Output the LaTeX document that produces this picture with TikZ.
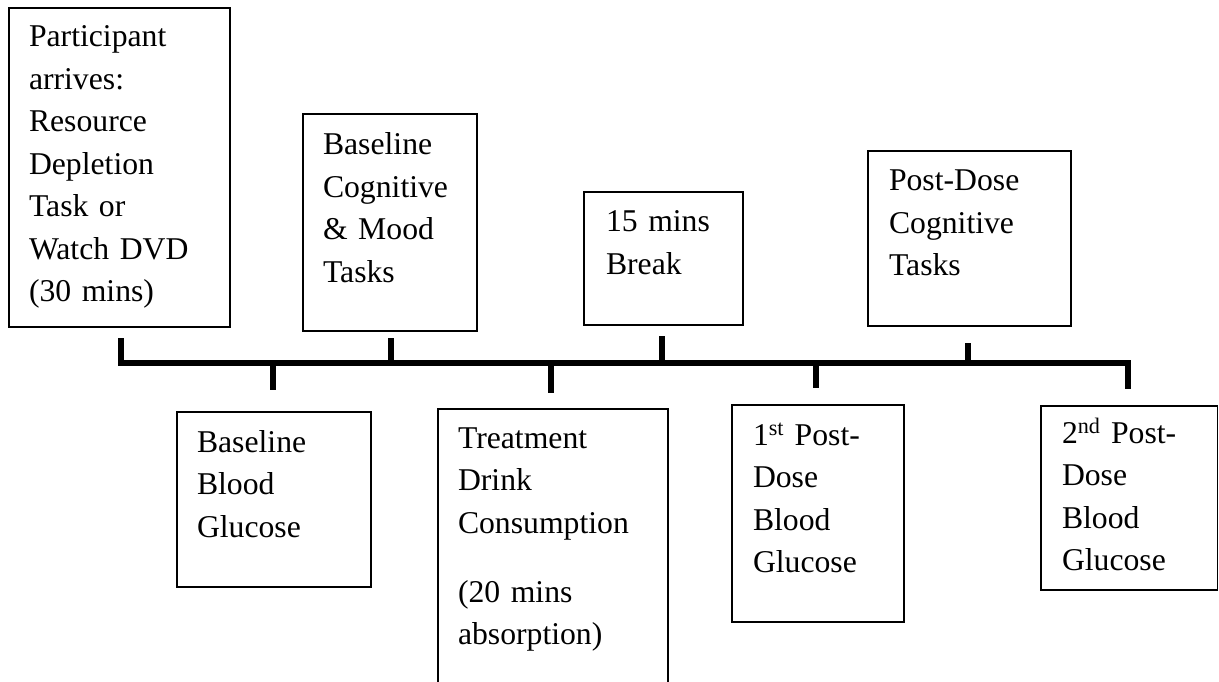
\documentclass[tikz,border=0pt]{standalone}
\usepackage{fontspec}
\setmainfont{Liberation Serif}
\begin{document}
\begin{tikzpicture}[x=1pt,y=-1pt,
  box/.style={draw, line width=1.3pt, inner sep=0pt, outer sep=0pt, anchor=north west},
  txt/.style={anchor=base west, inner sep=0pt, outer sep=0pt, text width=220pt, align=left,
              font=\fontsize{31.7}{42.5}\selectfont},
  tl/.style={line width=6pt, line join=miter, line cap=butt}]
\useasboundingbox (0,0) rectangle (1219,682);
\clip (0,0) rectangle (1219,682);
\fill[white] (0,0) rectangle (1219,682);

% upper boxes
\node[box, minimum width=221pt, minimum height=319pt] (b1) at (9,8) {};
\node[txt] (t1) at (29,47) {Participant\\arrives:\\Resource\\Depletion\\Task or\\Watch DVD\\(30 mins)};

\node[box, minimum width=174pt, minimum height=217pt] (b2) at (303,114) {};
\node[txt] (t2) at (323,155) {Baseline\\Cognitive\\\& Mood\\Tasks};

\node[box, minimum width=159pt, minimum height=133pt] (b3) at (584,192) {};
\node[txt] (t3) at (606,232) {15 mins\\Break};

\node[box, minimum width=203pt, minimum height=175pt] (b4) at (868,151) {};
\node[txt] (t4) at (889,191) {Post-Dose\\Cognitive\\Tasks};

% lower boxes
\node[box, minimum width=194pt, minimum height=175pt] (b5) at (177,412) {};
\node[txt] (t5) at (197,452) {Baseline\\Blood\\Glucose};

\node[box, minimum width=230pt, minimum height=300pt] (b6) at (438,409) {};
\node[txt] (t6) at (458,448) {Treatment\\Drink\\Consumption\\[26.5pt](20 mins\\absorption)};

\node[box, minimum width=172pt, minimum height=217pt] (b7) at (732,405) {};
\node[txt] (t7) at (753,445) {1\textsuperscript{st} Post-\\Dose\\Blood\\Glucose};

\node[box, minimum width=176.5pt, minimum height=184pt] (b8) at (1041,406) {};
\node[txt] (t8) at (1062,443) {2\textsuperscript{nd} Post-\\Dose\\Blood\\Glucose};

% timeline
\coordinate (lEnd) at (121,338);
\coordinate (lCor) at (121,363);
\coordinate (rCor) at (1128,363);
\coordinate (rEnd) at (1128,389);
\draw[tl] (lEnd) -- (lCor) -- (rCor) -- (rEnd);

\coordinate (u1a) at (391,338); \coordinate (u1b) at (391,363);
\coordinate (u2a) at (662,336); \coordinate (u2b) at (662,363);
\coordinate (u3a) at (968,343); \coordinate (u3b) at (968,363);
\coordinate (d1a) at (273,363); \coordinate (d1b) at (273,390);
\coordinate (d2a) at (551,363); \coordinate (d2b) at (551,393);
\coordinate (d3a) at (816,363); \coordinate (d3b) at (816,388);
\draw[tl] (u1a) -- (u1b);
\draw[tl] (u2a) -- (u2b);
\draw[tl] (u3a) -- (u3b);
\draw[tl] (d1a) -- (d1b);
\draw[tl] (d2a) -- (d2b);
\draw[tl] (d3a) -- (d3b);
\end{tikzpicture}
\end{document}
